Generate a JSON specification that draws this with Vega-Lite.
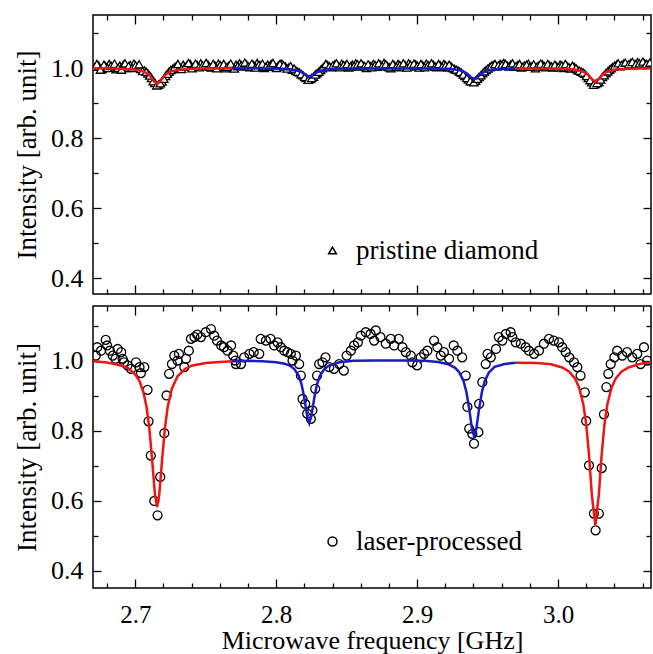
{
"$schema": "https://vega.github.io/schema/vega-lite/v6.json",
"padding": {"left": 12, "top": 13, "right": 1, "bottom": 0},
"background": "white",
"config": {
 "view": {"stroke": "black", "strokeWidth": 1.5},
 "font": "Liberation Serif",
 "axis": {"labelFont": "Liberation Serif", "titleFont": "Liberation Serif", "labelFontSize": 26, "titleFontSize": 26, "titleFontWeight": "normal", "labelColor": "black", "titleColor": "black", "domain": false, "grid": false, "tickColor": "black", "tickWidth": 1.3},
 "legend": {"labelFont": "Liberation Serif", "labelFontSize": 27, "labelColor": "black", "labelLimit": 0}
},
"datasets": {
 "topPts": [
{"x":2.6715,"y":1.004},{"x":2.674,"y":1.008},{"x":2.6765,"y":0.998},{"x":2.679,"y":1.006},{"x":2.6815,"y":1.012},{"x":2.684,"y":1.002},{"x":2.6865,"y":0.997},{"x":2.689,"y":1.007},{"x":2.6915,"y":1.010},{"x":2.694,"y":1.001},{"x":2.6965,"y":1.009},{"x":2.699,"y":1.013},{"x":2.7015,"y":1.004},{"x":2.704,"y":0.998},{"x":2.7065,"y":0.994},{"x":2.709,"y":0.985},{"x":2.7115,"y":0.972},{"x":2.714,"y":0.958},{"x":2.7165,"y":0.953},{"x":2.719,"y":0.962},{"x":2.7215,"y":0.978},{"x":2.724,"y":0.990},{"x":2.7265,"y":0.998},{"x":2.729,"y":1.006},{"x":2.7315,"y":1.003},{"x":2.734,"y":1.010},{"x":2.7365,"y":1.007},{"x":2.739,"y":1.012},{"x":2.7415,"y":1.004},{"x":2.744,"y":1.009},{"x":2.7465,"y":1.014},{"x":2.749,"y":1.006},{"x":2.7515,"y":1.011},{"x":2.754,"y":1.002},{"x":2.7565,"y":1.008},{"x":2.759,"y":1.013},{"x":2.7615,"y":1.005},{"x":2.764,"y":1.000},{"x":2.7665,"y":1.007},{"x":2.769,"y":1.003},{"x":2.7715,"y":1.010},{"x":2.774,"y":1.014},{"x":2.7765,"y":1.006},{"x":2.779,"y":1.011},{"x":2.7815,"y":1.003},{"x":2.784,"y":1.009},{"x":2.7865,"y":1.015},{"x":2.789,"y":1.007},{"x":2.7915,"y":1.001},{"x":2.794,"y":1.010},{"x":2.7965,"y":1.012},{"x":2.799,"y":1.004},{"x":2.8015,"y":1.008},{"x":2.804,"y":1.013},{"x":2.8065,"y":1.005},{"x":2.809,"y":1.002},{"x":2.8115,"y":0.996},{"x":2.814,"y":0.993},{"x":2.8165,"y":0.988},{"x":2.819,"y":0.980},{"x":2.8215,"y":0.972},{"x":2.824,"y":0.969},{"x":2.8265,"y":0.976},{"x":2.829,"y":0.986},{"x":2.8315,"y":0.995},{"x":2.834,"y":1.004},{"x":2.8365,"y":1.009},{"x":2.839,"y":1.003},{"x":2.8415,"y":1.011},{"x":2.844,"y":1.006},{"x":2.8465,"y":1.013},{"x":2.849,"y":1.008},{"x":2.8515,"y":1.002},{"x":2.854,"y":1.010},{"x":2.8565,"y":1.014},{"x":2.859,"y":1.005},{"x":2.8615,"y":1.009},{"x":2.864,"y":1.001},{"x":2.8665,"y":1.007},{"x":2.869,"y":1.012},{"x":2.8715,"y":1.004},{"x":2.874,"y":1.010},{"x":2.8765,"y":1.015},{"x":2.879,"y":1.006},{"x":2.8815,"y":1.000},{"x":2.884,"y":1.008},{"x":2.8865,"y":1.012},{"x":2.889,"y":1.003},{"x":2.8915,"y":1.009},{"x":2.894,"y":1.014},{"x":2.8965,"y":1.005},{"x":2.899,"y":1.011},{"x":2.9015,"y":1.002},{"x":2.904,"y":1.008},{"x":2.9065,"y":1.013},{"x":2.909,"y":1.006},{"x":2.9115,"y":1.010},{"x":2.914,"y":1.003},{"x":2.9165,"y":1.008},{"x":2.919,"y":1.012},{"x":2.9215,"y":1.002},{"x":2.924,"y":1.006},{"x":2.9265,"y":0.998},{"x":2.929,"y":0.994},{"x":2.9315,"y":0.987},{"x":2.934,"y":0.978},{"x":2.9365,"y":0.968},{"x":2.939,"y":0.962},{"x":2.9415,"y":0.964},{"x":2.944,"y":0.975},{"x":2.9465,"y":0.986},{"x":2.949,"y":0.995},{"x":2.9515,"y":1.003},{"x":2.954,"y":1.009},{"x":2.9565,"y":1.005},{"x":2.959,"y":1.012},{"x":2.9615,"y":1.015},{"x":2.964,"y":1.007},{"x":2.9665,"y":1.011},{"x":2.969,"y":1.004},{"x":2.9715,"y":1.009},{"x":2.974,"y":1.002},{"x":2.9765,"y":1.008},{"x":2.979,"y":1.013},{"x":2.9815,"y":1.005},{"x":2.984,"y":1.000},{"x":2.9865,"y":1.007},{"x":2.989,"y":1.011},{"x":2.9915,"y":1.003},{"x":2.994,"y":1.008},{"x":2.9965,"y":1.002},{"x":2.999,"y":1.006},{"x":3.0015,"y":1.010},{"x":3.004,"y":1.001},{"x":3.0065,"y":1.005},{"x":3.009,"y":0.999},{"x":3.0115,"y":1.004},{"x":3.014,"y":0.995},{"x":3.0165,"y":0.990},{"x":3.019,"y":0.984},{"x":3.0215,"y":0.972},{"x":3.024,"y":0.960},{"x":3.0265,"y":0.955},{"x":3.029,"y":0.961},{"x":3.0315,"y":0.975},{"x":3.034,"y":0.986},{"x":3.0365,"y":0.996},{"x":3.039,"y":1.004},{"x":3.0415,"y":1.010},{"x":3.044,"y":1.006},{"x":3.0465,"y":1.013},{"x":3.049,"y":1.008},{"x":3.0515,"y":1.015},{"x":3.054,"y":1.010},{"x":3.0565,"y":1.017},{"x":3.059,"y":1.009},{"x":3.0615,"y":1.014},{"x":3.064,"y":1.011},
{"x":2.67275,"y":1.012},{"x":2.67525,"y":0.996},{"x":2.67775,"y":1.010},{"x":2.68025,"y":1.001},{"x":2.68275,"y":1.007},{"x":2.68525,"y":1.013},{"x":2.68775,"y":1.001},{"x":2.69025,"y":0.996},{"x":2.69275,"y":1.014},{"x":2.69525,"y":1.006},{"x":2.69775,"y":1.001},{"x":2.70025,"y":1.008},{"x":2.70275,"y":1.011},{"x":2.70525,"y":0.992},{"x":2.70775,"y":0.990},{"x":2.71025,"y":0.979},{"x":2.71275,"y":0.963},{"x":2.71525,"y":0.951},{"x":2.71775,"y":0.957},{"x":2.72025,"y":0.970},{"x":2.72275,"y":0.984},{"x":2.72525,"y":0.995},{"x":2.72775,"y":1.002},{"x":2.73025,"y":1.012},{"x":2.73275,"y":0.998},{"x":2.73525,"y":1.004},{"x":2.73775,"y":1.015},{"x":2.74025,"y":1.000},{"x":2.74275,"y":1.013},{"x":2.74525,"y":1.003},{"x":2.74775,"y":1.008},{"x":2.75025,"y":1.015},{"x":2.75275,"y":1.004},{"x":2.75525,"y":1.012},{"x":2.75775,"y":1.000},{"x":2.76025,"y":1.009},{"x":2.76275,"y":1.012},{"x":2.76525,"y":1.004},{"x":2.76775,"y":1.013},{"x":2.77025,"y":0.999},{"x":2.77275,"y":1.006},{"x":2.77525,"y":1.009},{"x":2.77775,"y":1.016},{"x":2.78025,"y":1.005},{"x":2.78275,"y":1.013},{"x":2.78525,"y":1.002},{"x":2.78775,"y":1.010},{"x":2.79025,"y":1.013},{"x":2.79275,"y":1.004},{"x":2.79525,"y":1.006},{"x":2.79775,"y":1.015},{"x":2.80025,"y":1.001},{"x":2.80275,"y":1.012},{"x":2.80525,"y":1.008},{"x":2.80775,"y":0.999},{"x":2.81025,"y":1.006},{"x":2.81275,"y":0.999},{"x":2.81525,"y":0.990},{"x":2.81775,"y":0.983},{"x":2.82025,"y":0.975},{"x":2.82275,"y":0.967},{"x":2.82525,"y":0.972},{"x":2.82775,"y":0.982},{"x":2.83025,"y":0.990},{"x":2.83275,"y":1.000},{"x":2.83525,"y":1.012},{"x":2.83775,"y":1.005},{"x":2.84025,"y":1.008},{"x":2.84275,"y":1.014},{"x":2.84525,"y":1.003},{"x":2.84775,"y":1.009},{"x":2.85025,"y":1.012},{"x":2.85275,"y":1.005},{"x":2.85525,"y":1.007},{"x":2.85775,"y":1.011},{"x":2.86025,"y":1.014},{"x":2.86275,"y":1.006},{"x":2.86525,"y":1.011},{"x":2.86775,"y":1.003},{"x":2.87025,"y":1.009},{"x":2.87275,"y":1.014},{"x":2.87525,"y":1.006},{"x":2.87775,"y":1.011},{"x":2.88025,"y":1.003},{"x":2.88275,"y":1.012},{"x":2.88525,"y":1.004},{"x":2.88775,"y":1.009},{"x":2.89025,"y":1.014},{"x":2.89275,"y":1.002},{"x":2.89525,"y":1.010},{"x":2.89775,"y":1.013},{"x":2.90025,"y":1.007},{"x":2.90275,"y":1.012},{"x":2.90525,"y":1.003},{"x":2.90775,"y":1.009},{"x":2.91025,"y":1.014},{"x":2.91275,"y":1.005},{"x":2.91525,"y":1.012},{"x":2.91775,"y":1.004},{"x":2.92025,"y":1.008},{"x":2.92275,"y":1.010},{"x":2.92525,"y":1.001},{"x":2.92775,"y":0.996},{"x":2.93025,"y":0.990},{"x":2.93275,"y":0.982},{"x":2.93525,"y":0.972},{"x":2.93775,"y":0.963},{"x":2.94025,"y":0.960},{"x":2.94275,"y":0.970},{"x":2.94525,"y":0.980},{"x":2.94775,"y":0.991},{"x":2.95025,"y":0.999},{"x":2.95275,"y":1.007},{"x":2.95525,"y":1.012},{"x":2.95775,"y":1.008},{"x":2.96025,"y":1.010},{"x":2.96275,"y":1.012},{"x":2.96525,"y":1.005},{"x":2.96775,"y":1.014},{"x":2.97025,"y":1.006},{"x":2.97275,"y":1.012},{"x":2.97525,"y":1.005},{"x":2.97775,"y":1.010},{"x":2.98025,"y":1.004},{"x":2.98275,"y":1.011},{"x":2.98525,"y":1.005},{"x":2.98775,"y":1.013},{"x":2.99025,"y":1.006},{"x":2.99275,"y":1.012},{"x":2.99525,"y":1.005},{"x":2.99775,"y":1.010},{"x":3.00025,"y":1.003},{"x":3.00275,"y":1.008},{"x":3.00525,"y":1.012},{"x":3.00775,"y":1.003},{"x":3.01025,"y":1.007},{"x":3.01275,"y":1.000},{"x":3.01525,"y":0.993},{"x":3.01775,"y":0.988},{"x":3.02025,"y":0.978},{"x":3.02275,"y":0.966},{"x":3.02525,"y":0.953},{"x":3.02775,"y":0.958},{"x":3.03025,"y":0.968},{"x":3.03275,"y":0.980},{"x":3.03525,"y":0.991},{"x":3.03775,"y":1.000},{"x":3.04025,"y":1.007},{"x":3.04275,"y":1.014},{"x":3.04525,"y":1.009},{"x":3.04775,"y":1.016},{"x":3.05025,"y":1.011},{"x":3.05275,"y":1.018},{"x":3.05525,"y":1.012},{"x":3.05775,"y":1.014},{"x":3.06025,"y":1.019},{"x":3.06275,"y":1.012},{"x":3.06525,"y":1.016}
 ],
 "topFit": [
{"x":2.670,"y":1.0,"s":"a","c":"red"},{"x":2.6855,"y":0.999,"s":"a","c":"red"},{"x":2.6955,"y":0.997,"s":"a","c":"red"},{"x":2.7005,"y":0.9955,"s":"a","c":"red"},{"x":2.7055,"y":0.991,"s":"a","c":"red"},{"x":2.708,"y":0.986,"s":"a","c":"red"},{"x":2.7105,"y":0.9775,"s":"a","c":"red"},{"x":2.713,"y":0.964,"s":"a","c":"red"},{"x":2.7155,"y":0.955,"s":"a","c":"red"},{"x":2.718,"y":0.964,"s":"a","c":"red"},{"x":2.7205,"y":0.9775,"s":"a","c":"red"},{"x":2.723,"y":0.986,"s":"a","c":"red"},{"x":2.7255,"y":0.991,"s":"a","c":"red"},{"x":2.7305,"y":0.9955,"s":"a","c":"red"},{"x":2.7355,"y":0.997,"s":"a","c":"red"},{"x":2.7455,"y":0.999,"s":"a","c":"red"},{"x":2.769,"y":1.0,"s":"a","c":"red"},
{"x":2.769,"y":1.0,"s":"b","c":"blue"},{"x":2.7935,"y":0.9993,"s":"b","c":"blue"},{"x":2.8035,"y":0.9985,"s":"b","c":"blue"},{"x":2.8085,"y":0.9975,"s":"b","c":"blue"},{"x":2.8135,"y":0.995,"s":"b","c":"blue"},{"x":2.816,"y":0.992,"s":"b","c":"blue"},{"x":2.8185,"y":0.9875,"s":"b","c":"blue"},{"x":2.821,"y":0.980,"s":"b","c":"blue"},{"x":2.8235,"y":0.975,"s":"b","c":"blue"},{"x":2.826,"y":0.980,"s":"b","c":"blue"},{"x":2.8285,"y":0.9875,"s":"b","c":"blue"},{"x":2.831,"y":0.992,"s":"b","c":"blue"},{"x":2.8335,"y":0.995,"s":"b","c":"blue"},{"x":2.8385,"y":0.9975,"s":"b","c":"blue"},{"x":2.8435,"y":0.9985,"s":"b","c":"blue"},{"x":2.8535,"y":0.9993,"s":"b","c":"blue"},{"x":2.9105,"y":0.9992,"s":"b","c":"blue"},{"x":2.9205,"y":0.998,"s":"b","c":"blue"},{"x":2.9255,"y":0.9969,"s":"b","c":"blue"},{"x":2.9305,"y":0.9938,"s":"b","c":"blue"},{"x":2.933,"y":0.990,"s":"b","c":"blue"},{"x":2.9355,"y":0.9845,"s":"b","c":"blue"},{"x":2.938,"y":0.975,"s":"b","c":"blue"},{"x":2.9405,"y":0.969,"s":"b","c":"blue"},{"x":2.943,"y":0.975,"s":"b","c":"blue"},{"x":2.9455,"y":0.9845,"s":"b","c":"blue"},{"x":2.948,"y":0.990,"s":"b","c":"blue"},{"x":2.9505,"y":0.9938,"s":"b","c":"blue"},{"x":2.9555,"y":0.9969,"s":"b","c":"blue"},{"x":2.9605,"y":0.998,"s":"b","c":"blue"},{"x":2.970,"y":0.999,"s":"b","c":"blue"},
{"x":2.970,"y":0.999,"s":"c","c":"red"},{"x":2.9965,"y":0.9989,"s":"c","c":"red"},{"x":3.0065,"y":0.9977,"s":"c","c":"red"},{"x":3.0115,"y":0.996,"s":"c","c":"red"},{"x":3.0165,"y":0.992,"s":"c","c":"red"},{"x":3.019,"y":0.988,"s":"c","c":"red"},{"x":3.0215,"y":0.9805,"s":"c","c":"red"},{"x":3.024,"y":0.969,"s":"c","c":"red"},{"x":3.0265,"y":0.961,"s":"c","c":"red"},{"x":3.029,"y":0.969,"s":"c","c":"red"},{"x":3.0315,"y":0.9805,"s":"c","c":"red"},{"x":3.034,"y":0.988,"s":"c","c":"red"},{"x":3.0365,"y":0.992,"s":"c","c":"red"},{"x":3.0415,"y":0.996,"s":"c","c":"red"},{"x":3.0465,"y":0.9977,"s":"c","c":"red"},{"x":3.0565,"y":0.9989,"s":"c","c":"red"},{"x":3.066,"y":1.0,"s":"c","c":"red"}
 ],
 "botPts": [
{"x":2.672,"y":1.015},{"x":2.673,"y":1.039},{"x":2.6757,"y":1.029},{"x":2.679,"y":1.060},{"x":2.680,"y":1.044},{"x":2.682,"y":1.029},{"x":2.684,"y":1.015},{"x":2.686,"y":1.006},{"x":2.6875,"y":1.034},{"x":2.690,"y":1.025},{"x":2.691,"y":1.006},{"x":2.692,"y":0.996},{"x":2.6945,"y":0.987},{"x":2.697,"y":0.977},{"x":2.7005,"y":0.996},{"x":2.703,"y":0.982},{"x":2.7064,"y":0.982},{"x":2.704,"y":0.965},{"x":2.7087,"y":0.917},{"x":2.7094,"y":0.827},{"x":2.711,"y":0.729},{"x":2.7135,"y":0.599},{"x":2.7158,"y":0.558},{"x":2.7177,"y":0.668},{"x":2.7206,"y":0.793},{"x":2.7222,"y":0.901},{"x":2.724,"y":0.963},{"x":2.726,"y":0.991},{"x":2.7277,"y":1.015},{"x":2.730,"y":1.001},{"x":2.731,"y":1.020},{"x":2.7348,"y":0.982},{"x":2.736,"y":1.006},{"x":2.738,"y":1.029},{"x":2.7395,"y":1.063},{"x":2.742,"y":1.068},{"x":2.744,"y":1.075},{"x":2.7466,"y":1.068},{"x":2.750,"y":1.082},{"x":2.7537,"y":1.091},{"x":2.756,"y":1.072},{"x":2.758,"y":1.058},{"x":2.761,"y":1.044},{"x":2.763,"y":1.039},{"x":2.7655,"y":1.029},{"x":2.768,"y":1.044},{"x":2.7695,"y":1.015},{"x":2.7714,"y":0.991},{"x":2.771,"y":1.001},{"x":2.775,"y":0.991},{"x":2.7773,"y":1.010},{"x":2.781,"y":1.020},{"x":2.784,"y":1.025},{"x":2.788,"y":1.020},{"x":2.789,"y":1.063},{"x":2.7927,"y":1.058},{"x":2.796,"y":1.063},{"x":2.7986,"y":1.044},{"x":2.801,"y":1.053},{"x":2.8033,"y":1.039},{"x":2.8057,"y":1.029},{"x":2.808,"y":1.025},{"x":2.8104,"y":1.020},{"x":2.8116,"y":1.001},{"x":2.814,"y":1.015},{"x":2.8163,"y":0.991},{"x":2.8175,"y":0.958},{"x":2.8187,"y":0.891},{"x":2.8206,"y":0.877},{"x":2.822,"y":0.849},{"x":2.8246,"y":0.834},{"x":2.8257,"y":0.858},{"x":2.8277,"y":0.920},{"x":2.829,"y":0.958},{"x":2.8305,"y":0.991},{"x":2.8328,"y":0.996},{"x":2.835,"y":1.010},{"x":2.8376,"y":0.982},{"x":2.841,"y":0.977},{"x":2.8447,"y":0.991},{"x":2.848,"y":0.972},{"x":2.850,"y":1.015},{"x":2.853,"y":1.029},{"x":2.8553,"y":1.044},{"x":2.858,"y":1.053},{"x":2.860,"y":1.072},{"x":2.8636,"y":1.082},{"x":2.867,"y":1.077},{"x":2.8695,"y":1.058},{"x":2.8707,"y":1.087},{"x":2.874,"y":1.068},{"x":2.8778,"y":1.049},{"x":2.8813,"y":1.063},{"x":2.8837,"y":1.044},{"x":2.887,"y":1.063},{"x":2.8896,"y":1.039},{"x":2.892,"y":1.025},{"x":2.8955,"y":1.015},{"x":2.8967,"y":0.996},{"x":2.900,"y":0.987},{"x":2.9026,"y":1.010},{"x":2.905,"y":1.020},{"x":2.9073,"y":1.029},{"x":2.912,"y":1.058},{"x":2.9144,"y":1.039},{"x":2.9168,"y":1.015},{"x":2.919,"y":1.025},{"x":2.9227,"y":1.006},{"x":2.926,"y":1.044},{"x":2.9286,"y":1.029},{"x":2.932,"y":1.010},{"x":2.9345,"y":0.958},{"x":2.9357,"y":0.868},{"x":2.937,"y":0.806},{"x":2.9392,"y":0.791},{"x":2.9404,"y":0.763},{"x":2.9435,"y":0.796},{"x":2.944,"y":0.877},{"x":2.9463,"y":0.939},{"x":2.9487,"y":0.991},{"x":2.950,"y":1.020},{"x":2.9523,"y":1.010},{"x":2.956,"y":1.034},{"x":2.958,"y":1.068},{"x":2.9605,"y":1.058},{"x":2.963,"y":1.077},{"x":2.9664,"y":1.082},{"x":2.970,"y":1.053},{"x":2.9676,"y":1.068},{"x":2.9736,"y":1.049},{"x":2.977,"y":1.039},{"x":2.9794,"y":1.029},{"x":2.983,"y":1.020},{"x":2.9865,"y":1.029},{"x":2.990,"y":1.049},{"x":2.9936,"y":1.063},{"x":2.997,"y":1.058},{"x":3.0007,"y":1.053},{"x":3.003,"y":1.039},{"x":3.0055,"y":1.025},{"x":3.008,"y":1.010},{"x":3.0113,"y":0.996},{"x":3.0137,"y":0.982},{"x":3.016,"y":0.958},{"x":3.019,"y":0.910},{"x":3.020,"y":0.828},{"x":3.022,"y":0.701},{"x":3.0255,"y":0.563},{"x":3.0267,"y":0.515},{"x":3.029,"y":0.563},{"x":3.031,"y":0.693},{"x":3.0326,"y":0.847},{"x":3.0343,"y":0.925},{"x":3.0357,"y":0.963},{"x":3.0374,"y":0.991},{"x":3.040,"y":1.010},{"x":3.042,"y":1.029},{"x":3.0456,"y":1.015},{"x":3.049,"y":1.025},{"x":3.0527,"y":1.010},{"x":3.0562,"y":1.020},{"x":3.0586,"y":0.991},{"x":3.061,"y":1.039},{"x":3.0633,"y":1.001}
 ],
 "botFit": [
{"x":2.670,"y":0.9986,"s":"a","c":"red"},{"x":2.680,"y":0.995,"s":"a","c":"red"},{"x":2.690,"y":0.987,"s":"a","c":"red"},{"x":2.695,"y":0.979,"s":"a","c":"red"},{"x":2.700,"y":0.961,"s":"a","c":"red"},{"x":2.703,"y":0.942,"s":"a","c":"red"},{"x":2.706,"y":0.907,"s":"a","c":"red"},{"x":2.708,"y":0.868,"s":"a","c":"red"},{"x":2.710,"y":0.806,"s":"a","c":"red"},{"x":2.712,"y":0.715,"s":"a","c":"red"},{"x":2.714,"y":0.616,"s":"a","c":"red"},{"x":2.7155,"y":0.582,"s":"a","c":"red"},{"x":2.717,"y":0.616,"s":"a","c":"red"},{"x":2.719,"y":0.715,"s":"a","c":"red"},{"x":2.721,"y":0.806,"s":"a","c":"red"},{"x":2.723,"y":0.868,"s":"a","c":"red"},{"x":2.726,"y":0.921,"s":"a","c":"red"},{"x":2.730,"y":0.956,"s":"a","c":"red"},{"x":2.735,"y":0.976,"s":"a","c":"red"},{"x":2.740,"y":0.986,"s":"a","c":"red"},{"x":2.750,"y":0.994,"s":"a","c":"red"},{"x":2.760,"y":0.997,"s":"a","c":"red"},{"x":2.769,"y":0.999,"s":"a","c":"red"},
{"x":2.769,"y":0.999,"s":"b","c":"blue"},{"x":2.780,"y":1.0,"s":"b","c":"blue"},{"x":2.790,"y":0.999,"s":"b","c":"blue"},{"x":2.800,"y":0.996,"s":"b","c":"blue"},{"x":2.806,"y":0.992,"s":"b","c":"blue"},{"x":2.810,"y":0.986,"s":"b","c":"blue"},{"x":2.813,"y":0.976,"s":"b","c":"blue"},{"x":2.816,"y":0.957,"s":"b","c":"blue"},{"x":2.818,"y":0.933,"s":"b","c":"blue"},{"x":2.820,"y":0.893,"s":"b","c":"blue"},{"x":2.822,"y":0.842,"s":"b","c":"blue"},{"x":2.8235,"y":0.822,"s":"b","c":"blue"},{"x":2.825,"y":0.842,"s":"b","c":"blue"},{"x":2.827,"y":0.893,"s":"b","c":"blue"},{"x":2.829,"y":0.933,"s":"b","c":"blue"},{"x":2.831,"y":0.957,"s":"b","c":"blue"},{"x":2.834,"y":0.976,"s":"b","c":"blue"},{"x":2.838,"y":0.988,"s":"b","c":"blue"},{"x":2.845,"y":0.996,"s":"b","c":"blue"},{"x":2.855,"y":1.0,"s":"b","c":"blue"},{"x":2.870,"y":1.001,"s":"b","c":"blue"},{"x":2.890,"y":1.001,"s":"b","c":"blue"},{"x":2.905,"y":1.0,"s":"b","c":"blue"},{"x":2.915,"y":0.9965,"s":"b","c":"blue"},{"x":2.922,"y":0.9905,"s":"b","c":"blue"},{"x":2.927,"y":0.980,"s":"b","c":"blue"},{"x":2.930,"y":0.967,"s":"b","c":"blue"},{"x":2.933,"y":0.942,"s":"b","c":"blue"},{"x":2.935,"y":0.911,"s":"b","c":"blue"},{"x":2.937,"y":0.8625,"s":"b","c":"blue"},{"x":2.939,"y":0.804,"s":"b","c":"blue"},{"x":2.9405,"y":0.784,"s":"b","c":"blue"},{"x":2.942,"y":0.804,"s":"b","c":"blue"},{"x":2.944,"y":0.8625,"s":"b","c":"blue"},{"x":2.946,"y":0.911,"s":"b","c":"blue"},{"x":2.948,"y":0.942,"s":"b","c":"blue"},{"x":2.951,"y":0.967,"s":"b","c":"blue"},{"x":2.955,"y":0.983,"s":"b","c":"blue"},{"x":2.962,"y":0.991,"s":"b","c":"blue"},{"x":2.970,"y":0.9946,"s":"b","c":"blue"},
{"x":2.970,"y":0.9946,"s":"c","c":"red"},{"x":2.985,"y":0.994,"s":"c","c":"red"},{"x":2.995,"y":0.990,"s":"c","c":"red"},{"x":3.003,"y":0.981,"s":"c","c":"red"},{"x":3.008,"y":0.969,"s":"c","c":"red"},{"x":3.012,"y":0.950,"s":"c","c":"red"},{"x":3.015,"y":0.923,"s":"c","c":"red"},{"x":3.018,"y":0.875,"s":"c","c":"red"},{"x":3.020,"y":0.819,"s":"c","c":"red"},{"x":3.022,"y":0.732,"s":"c","c":"red"},{"x":3.024,"y":0.618,"s":"c","c":"red"},{"x":3.0265,"y":0.529,"s":"c","c":"red"},{"x":3.029,"y":0.618,"s":"c","c":"red"},{"x":3.031,"y":0.732,"s":"c","c":"red"},{"x":3.033,"y":0.819,"s":"c","c":"red"},{"x":3.035,"y":0.875,"s":"c","c":"red"},{"x":3.038,"y":0.923,"s":"c","c":"red"},{"x":3.041,"y":0.950,"s":"c","c":"red"},{"x":3.045,"y":0.969,"s":"c","c":"red"},{"x":3.050,"y":0.981,"s":"c","c":"red"},{"x":3.058,"y":0.9914,"s":"c","c":"red"},{"x":3.066,"y":0.996,"s":"c","c":"red"}
 ]
},
"spacing": 8,
"vconcat": [
 {
  "width": 558, "height": 279,
  "layer": [
   {"data": {"name": "topPts"},
    "mark": {"type": "point", "filled": true, "fill": "white", "stroke": "black", "strokeWidth": 1.3, "size": 70, "opacity": 1, "clip": true},
    "encoding": {
     "x": {"field": "x", "type": "quantitative", "scale": {"domain": [2.67, 3.066], "nice": false, "zero": false},
       "axis": {"orient": "bottom", "values": [2.68,2.7,2.72,2.74,2.76,2.78,2.8,2.82,2.84,2.86,2.88,2.9,2.92,2.94,2.96,2.98,3.0,3.02,3.04,3.06], "labels": false, "title": null,
         "tickSize": {"condition": {"test": "abs(datum.value*10-round(datum.value*10))<0.01", "value": -9}, "value": -5}}},
     "y": {"field": "y", "type": "quantitative", "scale": {"domain": [0.355, 1.152], "nice": false, "zero": false},
       "axis": {"orient": "left", "values": [0.4,0.5,0.6,0.7,0.8,0.9,1.0,1.1], "labelExpr": "abs(datum.value*5-round(datum.value*5))<0.01 ? format(datum.value,'.1f') : ''",
         "tickSize": {"condition": {"test": "abs(datum.value*5-round(datum.value*5))<0.01", "value": -8}, "value": -5},
         "labelPadding": 18, "title": "Intensity [arb. unit]", "titlePadding": 9, "titleFontSize": 27}},
     "shape": {"datum": "pristine diamond", "type": "nominal", "scale": {"range": ["triangle-up"]},
       "legend": {"orient": "none", "legendX": 226, "legendY": 222, "title": null, "padding": 0, "symbolSize": 60, "labelOffset": 10, "labelLimit": 0,
         "encode": {"symbols": {"update": {"fill": {"value": "white"}, "stroke": {"value": "black"}, "strokeWidth": {"value": 1.2}, "opacity": {"value": 1}}}}}}
    }},
   {"data": {"name": "topFit"},
    "mark": {"type": "line", "strokeWidth": 2.5, "clip": true},
    "encoding": {
     "x": {"field": "x", "type": "quantitative", "scale": {"domain": [2.67, 3.066], "nice": false, "zero": false},
       "axis": {"orient": "top", "values": [2.68,2.7,2.72,2.74,2.76,2.78,2.8,2.82,2.84,2.86,2.88,2.9,2.92,2.94,2.96,2.98,3.0,3.02,3.04,3.06], "labels": false, "title": null,
         "tickSize": {"condition": {"test": "abs(datum.value*10-round(datum.value*10))<0.01", "value": -9}, "value": -5}}},
     "y": {"field": "y", "type": "quantitative", "scale": {"domain": [0.355, 1.152], "nice": false, "zero": false},
       "axis": {"orient": "right", "values": [0.4,0.5,0.6,0.7,0.8,0.9,1.0,1.1], "labels": false, "title": null,
         "tickSize": {"condition": {"test": "abs(datum.value*5-round(datum.value*5))<0.01", "value": -8}, "value": -5}}},
     "color": {"field": "c", "type": "nominal", "scale": {"domain": ["red", "blue"], "range": ["#f01515", "#1a1ac8"]}, "legend": null},
     "detail": {"field": "s"}
    }}
  ],
  "resolve": {"axis": {"x": "independent", "y": "independent"}}
 },
 {
  "width": 558, "height": 282,
  "layer": [
   {"data": {"name": "botPts"},
    "mark": {"type": "point", "filled": false, "stroke": "black", "strokeWidth": 1.3, "size": 80, "opacity": 1, "clip": true},
    "encoding": {
     "x": {"field": "x", "type": "quantitative", "scale": {"domain": [2.67, 3.066], "nice": false, "zero": false},
       "axis": {"orient": "bottom", "values": [2.68,2.7,2.72,2.74,2.76,2.78,2.8,2.82,2.84,2.86,2.88,2.9,2.92,2.94,2.96,2.98,3.0,3.02,3.04,3.06],
         "labelExpr": "abs(datum.value*10-round(datum.value*10))<0.01 ? format(datum.value,'.1f') : ''",
         "tickSize": {"condition": {"test": "abs(datum.value*10-round(datum.value*10))<0.01", "value": -9}, "value": -5},
         "labelPadding": 23, "labelFontSize": 25, "title": "Microwave frequency [GHz]", "titlePadding": 0}},
     "y": {"field": "y", "type": "quantitative", "scale": {"domain": [0.35, 1.157], "nice": false, "zero": false},
       "axis": {"orient": "left", "values": [0.4,0.5,0.6,0.7,0.8,0.9,1.0,1.1], "labelExpr": "abs(datum.value*5-round(datum.value*5))<0.01 ? format(datum.value,'.1f') : ''",
         "tickSize": {"condition": {"test": "abs(datum.value*5-round(datum.value*5))<0.01", "value": -8}, "value": -5},
         "labelPadding": 18, "title": "Intensity [arb. unit]", "titlePadding": 9, "titleFontSize": 27}},
     "shape": {"datum": "laser-processed", "type": "nominal", "scale": {"range": ["circle"]},
       "legend": {"orient": "none", "legendX": 226, "legendY": 222, "title": null, "padding": 0, "symbolSize": 80, "labelOffset": 10, "labelLimit": 0,
         "encode": {"symbols": {"update": {"fill": {"value": "transparent"}, "stroke": {"value": "black"}, "strokeWidth": {"value": 1.3}, "opacity": {"value": 1}}}}}}
    }},
   {"data": {"name": "botFit"},
    "mark": {"type": "line", "strokeWidth": 2.5, "clip": true},
    "encoding": {
     "x": {"field": "x", "type": "quantitative", "scale": {"domain": [2.67, 3.066], "nice": false, "zero": false},
       "axis": {"orient": "top", "values": [2.68,2.7,2.72,2.74,2.76,2.78,2.8,2.82,2.84,2.86,2.88,2.9,2.92,2.94,2.96,2.98,3.0,3.02,3.04,3.06], "labels": false, "title": null,
         "tickSize": {"condition": {"test": "abs(datum.value*10-round(datum.value*10))<0.01", "value": -9}, "value": -5}}},
     "y": {"field": "y", "type": "quantitative", "scale": {"domain": [0.35, 1.157], "nice": false, "zero": false},
       "axis": {"orient": "right", "values": [0.4,0.5,0.6,0.7,0.8,0.9,1.0,1.1], "labels": false, "title": null,
         "tickSize": {"condition": {"test": "abs(datum.value*5-round(datum.value*5))<0.01", "value": -8}, "value": -5}}},
     "color": {"field": "c", "type": "nominal", "scale": {"domain": ["red", "blue"], "range": ["#f01515", "#1a1ac8"]}, "legend": null},
     "detail": {"field": "s"}
    }}
  ],
  "resolve": {"axis": {"x": "independent", "y": "independent"}}
 }
],
"resolve": {"scale": {"y": "independent", "shape": "independent"}, "legend": {"shape": "independent"}}
}
